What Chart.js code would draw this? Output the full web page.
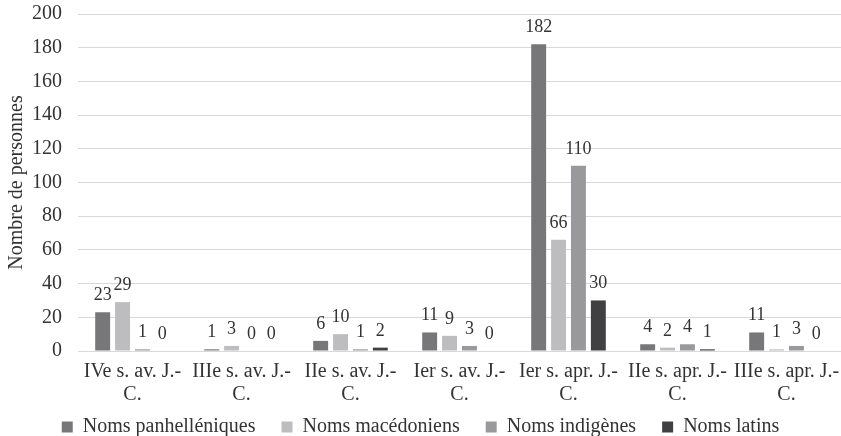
<!DOCTYPE html>
<html>
<head>
<meta charset="utf-8">
<script src="https://cdn.jsdelivr.net/npm/chart.js@4"></script>
<style>
  html, body { margin: 0; padding: 0; background: #fff; }
  #wrap { width: 841px; height: 436px; }
</style>
</head>
<body>
<div id="wrap"><canvas id="chart" width="841" height="436"></canvas></div>
<script>
// Periods (x axis), each label split on two lines like the original
const periods = [
    ["IVe s. av. J.-", "C."],
    ["IIIe s. av. J.-", "C."],
    ["IIe s. av. J.-", "C."],
    ["Ier s. av. J.-", "C."],
    ["Ier s. apr. J.-", "C."],
    ["IIe s. apr. J.-", "C."],
    ["IIIe s. apr. J.-", "C."]
];

// Number of persons per name type
const panhelleniques = [23, 1, 6, 11, 182, 4, 11];
const macedoniens = [29, 3, 10, 9, 66, 2, 1];
const indigenes = [1, 0, 1, 3, 110, 4, 3];
const latins = [0, 0, 2, 0, 30, 1, 0];

const yTicks = [0, 20, 40, 60, 80, 100, 120, 140, 160, 180, 200];

const serif = "'Liberation Serif', 'Times New Roman', serif";

// Draw the value above each bar
const valueLabels = {
    id: "valueLabels",
    afterDatasetsDraw(chart) {
        const ctx = chart.ctx;
        ctx.save();
        ctx.font = "18px " + serif;
        ctx.fillStyle = "#333333";
        ctx.textAlign = "center";
        ctx.textBaseline = "alphabetic";
        chart.data.datasets.forEach((ds, i) => {
            const meta = chart.getDatasetMeta(i);
            meta.data.forEach((bar, j) => {
                ctx.fillText(ds.data[j], bar.x, bar.y - 12);
            });
        });
        ctx.restore();
    }
};

// Legend: wide gaps between items but a short box
const compactLegend = {
    id: "compactLegend",
    afterInit(chart) {
        const legend = chart.legend;
        const fit = legend.fit;
        legend.fit = function () {
            fit.call(this);
            this.height = 29;
        };
    },
    afterLayout(chart) {
        chart.legend.top -= 16;
    }
};

new Chart(document.getElementById("chart").getContext("2d"), {
    type: "bar",
    data: {
        labels: periods,
        datasets: [
            { label: "Noms panhelléniques", data: panhelleniques, backgroundColor: "#77777a" },
            { label: "Noms macédoniens", data: macedoniens, backgroundColor: "#bdbdc0" },
            { label: "Noms indigènes", data: indigenes, backgroundColor: "#99999c" },
            { label: "Noms latins", data: latins, backgroundColor: "#404042" }
        ]
    },
    options: {
        responsive: false,
        animation: false,
        layout: { padding: { left: 0, right: 0, top: 14, bottom: 0 } },
        datasets: {
            bar: { categoryPercentage: 0.73, barPercentage: 0.75 }
        },
        plugins: {
            legend: {
                position: "bottom",
                labels: {
                    font: { family: serif, size: 20 },
                    color: "#333333",
                    boxWidth: 11,
                    boxHeight: 11,
                    padding: 26
                }
            },
            tooltip: { enabled: false }
        },
        scales: {
            x: {
                grid: { display: false },
                border: { color: "#d9d9d9" },
                afterFit(axis) {
                    axis.paddingLeft = 0;
                    axis.paddingRight = 0;
                },
                ticks: {
                    font: { family: serif, size: 20, lineHeight: 1.15 },
                    color: "#333333",
                    padding: 1,
                    maxRotation: 0,
                    autoSkip: false
                }
            },
            y: {
                min: 0,
                max: 200,
                afterBuildTicks(axis) {
                    axis.ticks = yTicks.map(v => ({ value: v }));
                },
                afterFit(axis) {
                    axis.width = 78;
                    axis.paddingTop = 0;
                    axis.paddingBottom = 0;
                },
                grid: { color: "#d9d9d9", drawTicks: false },
                border: { display: false },
                ticks: {
                    font: { family: serif, size: 20 },
                    color: "#333333",
                    padding: 16
                },
                title: {
                    display: true,
                    text: "Nombre de personnes",
                    font: { family: serif, size: 20 },
                    color: "#333333",
                    padding: { top: 5, bottom: 2 }
                }
            }
        }
    },
    plugins: [valueLabels, compactLegend]
});
</script>
</body>
</html>
